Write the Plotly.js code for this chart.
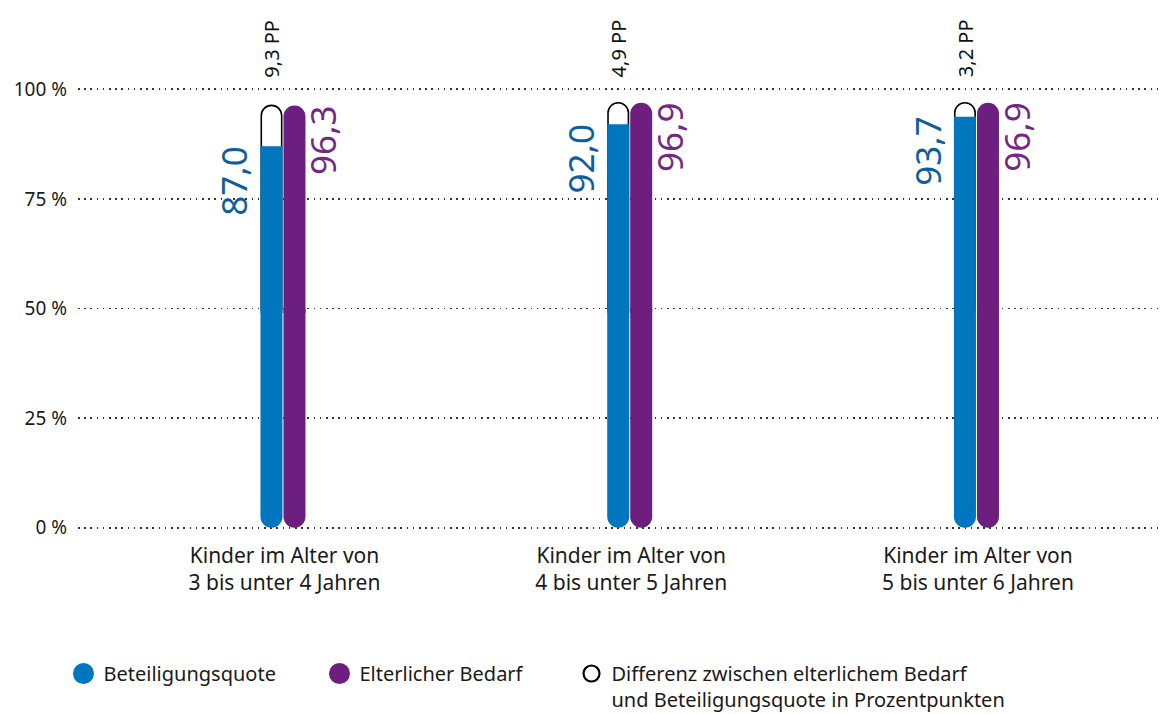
<!DOCTYPE html>
<html>
<head>
<meta charset="utf-8">
<script src="https://cdn.plot.ly/plotly-3.0.1.min.js"></script>
<style>
  html, body { margin: 0; padding: 0; background: #ffffff; }
  #chart { width: 1163px; height: 714px; }
</style>
</head>
<body>
<div id="chart"></div>
<script>
// ---- data ----
const categories = [
  "Kinder im Alter von<br>3 bis unter 4 Jahren",
  "Kinder im Alter von<br>4 bis unter 5 Jahren",
  "Kinder im Alter von<br>5 bis unter 6 Jahren"
];
const beteiligungsquote = [87.0, 92.0, 93.7];
const elterlicherBedarf = [96.3, 96.9, 96.9];
const differenzPP = [9.3, 4.9, 3.2];
const yTickVals = [0, 25, 50, 75, 100];
const legendNames = [
  "Beteiligungsquote",
  "Elterlicher Bedarf",
  "Differenz zwischen elterlichem Bedarf<br>und Beteiligungsquote in Prozentpunkten"
];

// ---- styling ----
const BLUE = "#0076bf", BLUE_TXT = "#0f5d9e";
const PURPLE = "#6c1f7e", PURPLE_TXT = "#732786";
const FONT = "Noto Sans, Open Sans, sans-serif";
const PX_PER_CAT = 346.75;    // pixel width of one category step
const BW = 22 / PX_PER_CAT;   // bar width (category units)
const OFF_BLUE = -24 / PX_PER_CAT;
const OFF_PURPLE = -1 / PX_PER_CAT;
const STROKE = 1.6;
const SW = STROKE / PX_PER_CAT;

// Bars are split into a lower piece (rounded bottom) and an upper piece
// (rounded or square top) drawn on overlaying axes shifted by MID values,
// so every piece starts at its own axis zero.
const MID_LOW = 50;   // y2 = y - 50  (lower pieces go 50 -> 0)
const MID_HIGH = 49;  // y3 = y - 49  (upper pieces go 49 -> value)
const Y_RANGE = [-0.5, 100.5];

const fmt = v => v.toFixed(1).replace(".", ",");

const traces = [
  // Difference outline (white, black stroke, rounded top); lower part is hidden by blue
  {
    type: "bar", x: categories, y: elterlicherBedarf.map(v => v - MID_LOW), yaxis: "y2",
    offset: OFF_BLUE + SW / 2, width: BW - SW,
    marker: { color: "#ffffff", line: { color: "#000000", width: STROKE }, cornerradius: "50%" },
    showlegend: false, hoverinfo: "skip"
  },
  // Beteiligungsquote lower piece (rounded bottom)
  {
    type: "bar", x: categories, y: beteiligungsquote.map(() => -MID_LOW), yaxis: "y2",
    offset: OFF_BLUE, width: BW,
    marker: { color: BLUE, line: { width: 0 }, cornerradius: "50%" },
    showlegend: false, hoverinfo: "skip"
  },
  // Elterlicher Bedarf lower piece (rounded bottom)
  {
    type: "bar", x: categories, y: elterlicherBedarf.map(() => -MID_LOW), yaxis: "y2",
    offset: OFF_PURPLE, width: BW,
    marker: { color: PURPLE, line: { width: 0 }, cornerradius: "50%" },
    showlegend: false, hoverinfo: "skip"
  },
  // Beteiligungsquote upper piece (square top)
  {
    type: "bar", x: categories, y: beteiligungsquote.map(v => v - MID_HIGH), yaxis: "y3",
    offset: OFF_BLUE, width: BW,
    marker: { color: BLUE, line: { width: 0 } },
    showlegend: false, hoverinfo: "skip"
  },
  // Elterlicher Bedarf upper piece (rounded top)
  {
    type: "bar", x: categories, y: elterlicherBedarf.map(v => v - MID_HIGH), yaxis: "y3",
    offset: OFF_PURPLE, width: BW,
    marker: { color: PURPLE, line: { width: 0 }, cornerradius: "50%" },
    showlegend: false, hoverinfo: "skip"
  },
  // legend entries
  {
    type: "scatter", mode: "markers", x: [null], y: [null], name: legendNames[0],
    marker: { symbol: "circle", color: BLUE, size: 16, line: { color: BLUE, width: 5 } }, legend: "legend"
  },
  {
    type: "scatter", mode: "markers", x: [null], y: [null], name: legendNames[1],
    marker: { symbol: "circle", color: PURPLE, size: 16, line: { color: PURPLE, width: 5 } }, legend: "legend"
  },
  {
    type: "scatter", mode: "markers", x: [null], y: [null], name: legendNames[2],
    marker: { symbol: "circle", color: "#ffffff", size: 16, line: { color: "#000000", width: 2.2 } },
    legend: "legend2"
  }
];

const annotations = [];
categories.forEach((c, i) => {
  annotations.push({
    x: c, y: beteiligungsquote[i], xref: "x", yref: "y",
    text: fmt(beteiligungsquote[i]), showarrow: false, textangle: -90,
    xanchor: "right", yanchor: "top", xshift: -25, yshift: 2,
    font: { family: FONT, size: 35, color: BLUE_TXT }
  });
  annotations.push({
    x: c, y: elterlicherBedarf[i], xref: "x", yref: "y",
    text: fmt(elterlicherBedarf[i]), showarrow: false, textangle: -90,
    xanchor: "left", yanchor: "top", xshift: 13, yshift: 2,
    font: { family: FONT, size: 35, color: PURPLE_TXT }
  });
  annotations.push({
    x: c, y: 100, xref: "x", yref: "y",
    text: fmt(differenzPP[i]) + " PP", showarrow: false, textangle: -90,
    xanchor: "center", yanchor: "bottom", xshift: -13, yshift: 10,
    font: { family: FONT, size: 20, color: "#111111" }
  });
});

const hiddenY = (shift) => ({
  overlaying: "y", visible: false, showgrid: false, zeroline: false,
  range: [Y_RANGE[0] - shift, Y_RANGE[1] - shift], fixedrange: true
});

const legendCommon = {
  orientation: "h",
  xref: "container", yref: "container",
  xanchor: "left", yanchor: "top",
  valign: "top",
  font: { family: FONT, size: 20, color: "#1a1a1a" },
  bgcolor: "rgba(0,0,0,0)"
};

const layout = {
  width: 1163, height: 714,
  margin: { l: 78, r: 3, t: 87, b: 184 },
  paper_bgcolor: "#ffffff", plot_bgcolor: "#ffffff",
  barmode: "overlay",
  showlegend: true,
  font: { family: FONT, size: 18, color: "#1a1a1a" },
  xaxis: {
    type: "category",
    range: [-0.5955, 2.525],
    showgrid: false, zeroline: false, showline: false, ticks: "",
    ticklabelstandoff: 11,
    tickfont: { family: FONT, size: 21, color: "#1a1a1a" },
    fixedrange: true
  },
  yaxis: {
    range: Y_RANGE,
    tickvals: yTickVals,
    ticktext: yTickVals.map(v => v + " %"),
    showgrid: true, gridcolor: "#333333", gridwidth: 1.6, griddash: "1.6px,4.6px",
    zeroline: false, showline: false, ticks: "",
    ticklabelstandoff: 10,
    tickfont: { family: FONT, size: 19, color: "#1a1a1a" },
    fixedrange: true
  },
  yaxis2: hiddenY(MID_LOW),
  yaxis3: hiddenY(MID_HIGH),
  legend: Object.assign({}, legendCommon, {
    x: 0.0546, y: 0.084, entrywidth: 211, entrywidthmode: "pixels"
  }),
  legend2: Object.assign({}, legendCommon, {
    x: 0.4914, y: 0.084
  }),
  annotations: annotations
};

Plotly.newPlot("chart", traces, layout, { displayModeBar: false, staticPlot: true });
</script>
</body>
</html>
